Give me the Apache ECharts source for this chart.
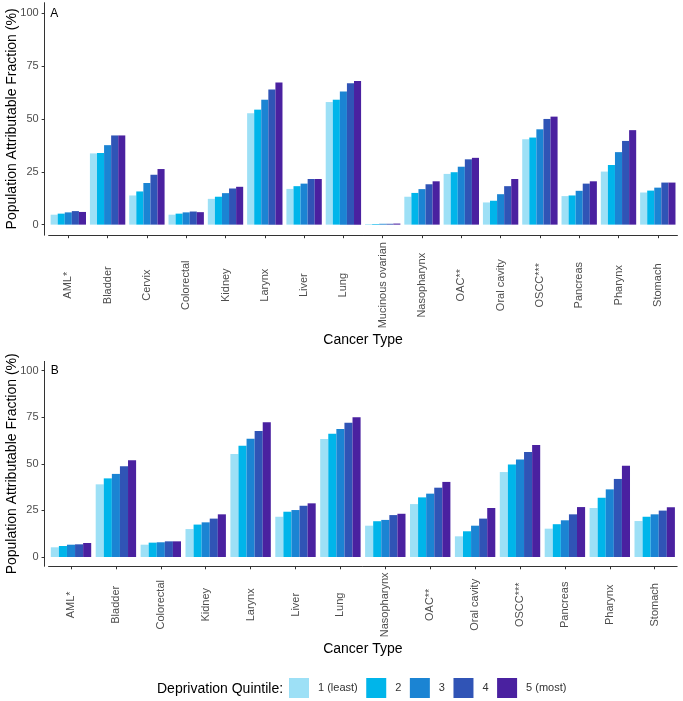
<!DOCTYPE html>
<html>
<head>
<meta charset="utf-8">
<script src="https://cdn.jsdelivr.net/npm/echarts@6/dist/echarts.min.js"></script>
<style>html,body{margin:0;padding:0;background:#fff}#c{width:683px;height:701px}</style>
</head>
<body>
<div id="c"></div>
<script>
// ---- data ----
const quintiles = ['1 (least)', '2', '3', '4', '5 (most)'];
const yTicks = [0, 25, 50, 75, 100];

const catsA = ['AML*','Bladder','Cervix','Colorectal','Kidney','Larynx','Liver','Lung','Mucinous ovarian','Nasopharynx','OAC**','Oral cavity','OSCC***','Pancreas','Pharynx','Stomach'];
const a_q1 = [4.7, 33.7, 13.8, 4.7, 12.2, 52.7, 16.9, 58.0, 0.3, 13.2, 24.0, 10.5, 40.4, 13.5, 25.1, 15.2];
const a_q2 = [5.2, 33.9, 15.7, 5.2, 13.2, 54.4, 18.2, 59.1, 0.3, 15.0, 24.8, 11.3, 41.2, 13.8, 28.2, 16.1];
const a_q3 = [5.8, 37.6, 19.7, 5.8, 14.9, 59.1, 19.4, 63.0, 0.4, 16.8, 27.4, 14.4, 45.1, 16.0, 34.3, 17.5];
const a_q4 = [6.4, 42.2, 23.6, 6.2, 17.1, 63.9, 21.6, 66.9, 0.4, 19.1, 30.9, 18.2, 50.0, 19.4, 39.6, 19.9];
const a_q5 = [6.0, 42.2, 26.3, 5.9, 17.9, 67.2, 21.6, 68.0, 0.5, 20.5, 31.6, 21.6, 51.1, 20.5, 44.7, 19.9];

const catsB = ['AML*','Bladder','Colorectal','Kidney','Larynx','Liver','Lung','Nasopharynx','OAC**','Oral cavity','OSCC***','Pancreas','Pharynx','Stomach'];
const b_q1 = [5.2, 39.0, 6.6, 15.0, 55.3, 21.6, 63.3, 16.8, 28.4, 11.1, 45.6, 15.2, 26.3, 19.3];
const b_q2 = [5.9, 42.2, 7.7, 17.4, 59.7, 24.3, 66.2, 19.2, 32.0, 13.8, 49.7, 17.6, 31.8, 21.6];
const b_q3 = [6.6, 44.6, 7.9, 18.6, 63.5, 25.2, 68.7, 19.9, 34.0, 16.8, 52.4, 19.7, 36.3, 22.9];
const b_q4 = [6.8, 48.7, 8.4, 20.6, 67.6, 27.5, 72.1, 22.5, 37.2, 20.6, 56.4, 22.9, 41.9, 24.9];
const b_q5 = [7.5, 51.9, 8.4, 22.9, 72.3, 28.8, 75.0, 23.2, 40.3, 26.3, 60.1, 26.8, 49.0, 26.7];

const seriesA = [a_q1, a_q2, a_q3, a_q4, a_q5];
const seriesB = [b_q1, b_q2, b_q3, b_q4, b_q5];
const colors = ['#9de0f6', '#00b5ea', '#1b84d3', '#3054b6', '#4a21a0'];

// ---- chart ----
const FONT = 'Liberation Sans, Arial, sans-serif';
const chart = echarts.init(document.getElementById('c'), null, {renderer: 'canvas'});

function xAxisFor(cats, gridIndex, margin, nameGap) {
  return {
    type: 'category', gridIndex, data: cats,
    axisLine: {onZero: false, lineStyle: {color: '#333', width: 1}},
    axisTick: {show: true, length: 3, alignWithLabel: true, lineStyle: {color: '#333'}},
    axisLabel: {interval: 0, rotate: 90, align: 'center', verticalAlign: 'middle', margin,
      fontSize: 11, color: '#4d4d4d', fontFamily: FONT},
    name: 'Cancer Type', nameLocation: 'middle', nameGap, nameMoveOverlap: false,
    nameTextStyle: {fontSize: 14, color: '#000', fontFamily: FONT},
    splitLine: {show: false}
  };
}
function yAxisFor(gridIndex) {
  return {
    type: 'value', gridIndex, min: -5, max: 105, offset: 4,
    axisLine: {show: true, lineStyle: {color: '#333', width: 1}},
    axisTick: {show: true, length: 3, customValues: yTicks, lineStyle: {color: '#333'}},
    axisLabel: {customValues: yTicks, fontSize: 11, color: '#4d4d4d', margin: 6, fontFamily: FONT},
    splitLine: {show: false},
    name: 'Population Attributable Fraction (%)', nameLocation: 'middle', nameGap: 25.5,
    nameMoveOverlap: false,
    nameTextStyle: {fontSize: 14, color: '#000', fontFamily: FONT}
  };
}

const series = [];
seriesA.forEach((d, i) => {
  const s = {type: 'bar', name: quintiles[i], xAxisIndex: 0, yAxisIndex: 0, data: d,
    itemStyle: {color: colors[i]}, barGap: '0%', barCategoryGap: '10%', animation: false};
  if (i === 0) s.markPoint = {symbolSize: 0, data: [{coord: ['AML*', 100]}],
    label: {show: true, position: 'inside', formatter: 'A', fontSize: 12, color: '#000', fontFamily: FONT}};
  series.push(s);
});
seriesB.forEach((d, i) => {
  const s = {type: 'bar', name: quintiles[i], xAxisIndex: 1, yAxisIndex: 1, data: d,
    itemStyle: {color: colors[i]}, barGap: '0%', barCategoryGap: '10%', animation: false};
  if (i === 0) s.markPoint = {symbolSize: 0, data: [{coord: ['AML*', 100]}],
    label: {show: true, position: 'inside', formatter: 'B', fontSize: 12, color: '#000', fontFamily: FONT}};
  series.push(s);
});

chart.setOption({
  backgroundColor: '#fff',
  animation: false,
  textStyle: {fontFamily: FONT},
  grid: [
    {left: 48.65, width: 628.8, top: 2.7, height: 232.5, containLabel: false, outerBoundsMode: 'none'},
    {left: 48.55, width: 628.6, top: 361.4, height: 204.9, containLabel: false, outerBoundsMode: 'none'}
  ],
  xAxis: [xAxisFor(catsA, 0, 50, 98), xAxisFor(catsB, 1, 38.5, 76)],
  yAxis: [yAxisFor(0), yAxisFor(1)],
  legend: {
    data: quintiles, left: 284, top: 673, itemWidth: 20, itemHeight: 20, itemGap: 8.5,
    icon: 'rect', selectedMode: false,
    textStyle: {fontSize: 11, color: '#333', fontFamily: FONT, padding: [0, 0, 0, 4]}
  },
  graphic: [{
    type: 'text', left: 157, top: 682,
    style: {text: 'Deprivation Quintile:', fontSize: 14, fill: '#000', fontFamily: FONT}
  }],
  series
});
</script>
</body>
</html>
